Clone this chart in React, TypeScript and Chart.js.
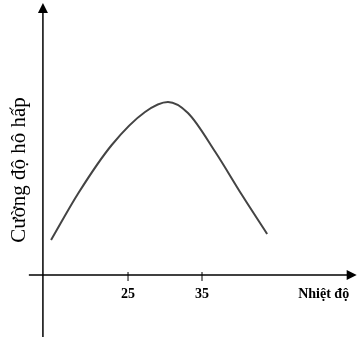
import React, { useEffect, useRef } from "react";
import { Chart, registerables } from "chart.js";

Chart.register(...registerables);

// Data (temperature vs. respiration intensity, arbitrary units)
const temperatures = [14.6, 18.3, 22.8, 27.3, 30.4, 33.1, 36.8, 40.4, 43.8];
const respiration = [35, 82, 130, 163, 173, 162, 123, 80, 41];
const xTicks = [25, 35];
const xTitle = "Nhiệt độ";
const yTitle = "Cường độ hô hấp";

// Axis extents (data units)
const X_MIN = 7.7;
const X_MAX = 56.62;
const Y_MIN = -68;
const Y_MAX = 275;
const Y_AXIS_AT = 13.5;
const X_AXIS_START = 11.6;
const X_AXIS_END = 55.9;
const Y_AXIS_TOP = 272;
const Y_AXIS_BOTTOM = -62;

const axesPlugin = {
  id: "arrowAxes",
  afterDraw(chart: any) {
    const ctx = chart.ctx as CanvasRenderingContext2D;
    const xs = chart.scales.x;
    const ys = chart.scales.y;
    const x0 = xs.getPixelForValue(Y_AXIS_AT);
    const y0 = ys.getPixelForValue(0);
    ctx.save();
    ctx.strokeStyle = "#000";
    ctx.fillStyle = "#000";
    ctx.lineWidth = 1.5;
    // y axis
    const yTop = ys.getPixelForValue(Y_AXIS_TOP);
    const yBot = ys.getPixelForValue(Y_AXIS_BOTTOM);
    ctx.beginPath();
    ctx.moveTo(x0, yBot);
    ctx.lineTo(x0, yTop + 8);
    ctx.stroke();
    ctx.beginPath();
    ctx.moveTo(x0, yTop);
    ctx.lineTo(x0 - 5, yTop + 10);
    ctx.lineTo(x0 + 5, yTop + 10);
    ctx.closePath();
    ctx.fill();
    // x axis
    const xStart = xs.getPixelForValue(X_AXIS_START);
    const xEnd = xs.getPixelForValue(X_AXIS_END);
    ctx.beginPath();
    ctx.moveTo(xStart, y0);
    ctx.lineTo(xEnd - 8, y0);
    ctx.stroke();
    ctx.beginPath();
    ctx.moveTo(xEnd, y0);
    ctx.lineTo(xEnd - 10, y0 - 5);
    ctx.lineTo(xEnd - 10, y0 + 5);
    ctx.closePath();
    ctx.fill();
    // ticks
    ctx.lineWidth = 1;
    ctx.font = "bold 14px 'Liberation Serif', 'DejaVu Serif', serif";
    ctx.textAlign = "center";
    ctx.textBaseline = "middle";
    for (const t of xTicks) {
      const px = xs.getPixelForValue(t);
      ctx.beginPath();
      ctx.moveTo(px, y0 - 3);
      ctx.lineTo(px, y0 + 6);
      ctx.stroke();
      ctx.fillText(String(t), px, y0 + 19);
    }
    // x title
    ctx.fillText(xTitle, xEnd - 33, y0 + 19);
    // y title
    ctx.font = "21px 'Liberation Serif', 'DejaVu Serif', serif";
    ctx.translate(19, ys.getPixelForValue(105));
    ctx.rotate(-Math.PI / 2);
    ctx.textAlign = "center";
    ctx.textBaseline = "middle";
    ctx.fillText(yTitle, 0, 0);
    ctx.restore();
  },
};

export default function App() {
  const ref = useRef<HTMLCanvasElement | null>(null);
  useEffect(() => {
    if (!ref.current) return;
    const chart = new Chart(ref.current, {
      type: "line",
      data: {
        datasets: [
          {
            data: temperatures.map((t, i) => ({ x: t, y: respiration[i] })),
            borderColor: "#444",
            borderWidth: 2,
            pointRadius: 0,
            cubicInterpolationMode: "monotone",
            fill: false,
          },
        ],
      },
      options: {
        animation: false,
        responsive: false,
        maintainAspectRatio: false,
        layout: { padding: 0 },
        plugins: { legend: { display: false }, tooltip: { enabled: false } },
        scales: {
          x: { type: "linear", min: X_MIN, max: X_MAX, display: false },
          y: { type: "linear", min: Y_MIN, max: Y_MAX, display: false },
        },
      },
      plugins: [axesPlugin],
    });
    return () => chart.destroy();
  }, []);
  return (
    <div style={{ position: "fixed", left: 0, top: 0, width: 362, height: 343, background: "#fff" }}>
      <canvas ref={ref} width={362} height={343} style={{ display: "block" }} />
    </div>
  );
}
